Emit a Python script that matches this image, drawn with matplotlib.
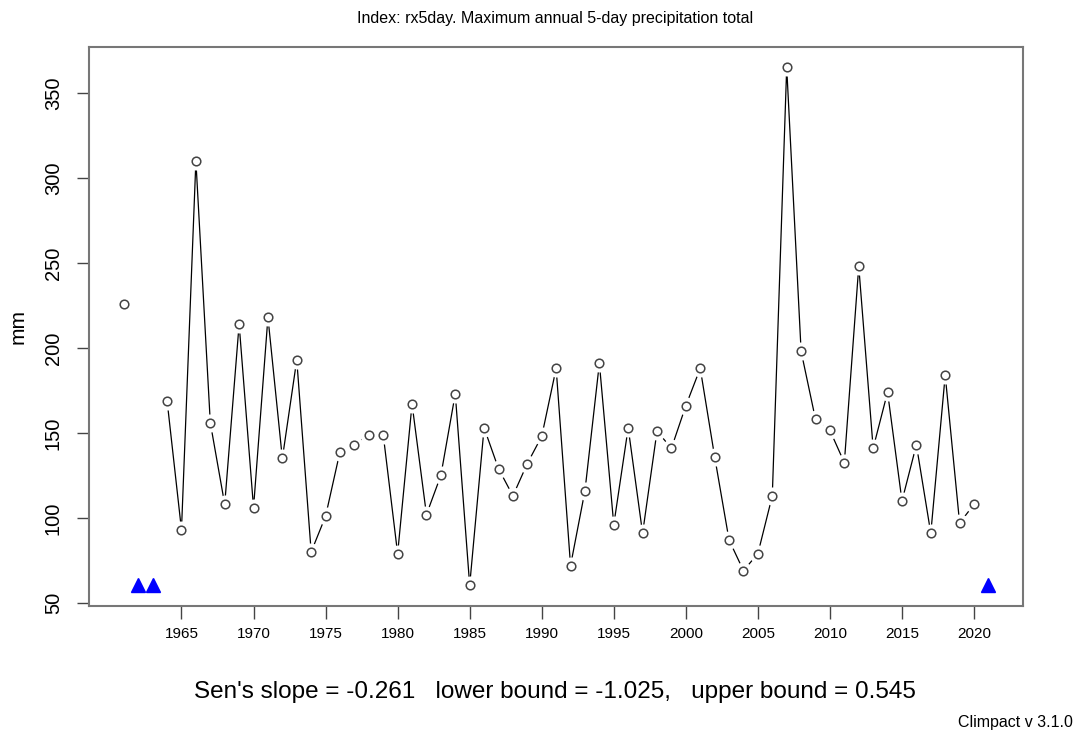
import numpy as np
import matplotlib
matplotlib.use("Agg")
import matplotlib.pyplot as plt

plt.rcParams["font.family"] = ["Liberation Sans", "DejaVu Sans"]

# rx5day values (nan = missing year)
years = np.arange(1961, 2022)
rx5day = np.array([
    226, np.nan, np.nan, 169, 93, 310, 156, 108, 214, 106,
    218, 135, 193, 80, 101, 139, 143, 149, 149, 79,
    167, 102, 125, 173, 60.4, 153, 129, 113, 132, 148,
    188, 72, 116, 191, 96, 153, 91, 151, 141, 166,
    188, 136, 87, 69, 79, 113, 365, 198, 158, 151.5,
    132.5, 248, 141, 174, 110, 143, 91, 184, 97, 108,
    np.nan,
])
x_ticks = np.arange(1965, 2021, 5)
y_ticks = np.arange(50, 351, 50)

title = "Index: rx5day. Maximum annual 5-day precipitation total"
slope_text = "Sen's slope = -0.261   lower bound = -1.025,   upper bound = 0.545"
footer = "Climpact v 3.1.0"


def r_range(lo, hi):
    """
    R style axis range, 4% padding
    """
    pad = 0.04 * (hi - lo)
    return lo - pad, hi + pad


def main():
    fig = plt.figure(figsize=(10.78, 7.33), dpi=100)
    ax = fig.add_axes([0.0828, 0.1733, 0.8662, 0.763])

    ymin = np.nanmin(rx5day)
    ymax = np.nanmax(rx5day)

    # type="b": line with gaps around the points
    ax.plot(years, rx5day, color="black", lw=0.9, zorder=1)
    ax.plot(years, rx5day, ls="none", marker="o", ms=13,
            mfc="white", mec="none", zorder=2)
    ax.plot(years, rx5day, ls="none", marker="o", ms=6.2,
            mfc="white", mec="#444444", mew=1.1, zorder=3)

    # missing years marked at the bottom
    missing = years[np.isnan(rx5day)]
    ax.plot(missing, np.full(len(missing), ymin), ls="none", marker="^",
            ms=10, color="blue", zorder=4)

    ax.set_xlim(*r_range(years[0], years[-1]))
    ax.set_ylim(*r_range(ymin, ymax))

    ax.set_xticks(x_ticks)
    ax.set_xticklabels([str(v) for v in x_ticks], fontsize=11)
    ax.set_yticks(y_ticks)
    ax.set_yticklabels([str(v) for v in y_ticks], fontsize=14.5,
                       rotation=90, va="center")
    ax.tick_params(axis="both", direction="out", length=9, width=1,
                   color="#444444")
    ax.tick_params(axis="x", pad=6)
    ax.tick_params(axis="y", pad=10)
    for s in ax.spines.values():
        s.set_color("#777777")
        s.set_linewidth(1.5)

    ax.set_ylabel("mm", fontsize=15, labelpad=12)
    fig.text(0.515, 0.975, title, ha="center", va="center", fontsize=11.5)
    fig.text(0.515, 0.056, slope_text, ha="center", va="center", fontsize=17.5)
    fig.text(0.995, 0.015, footer, ha="right", va="center", fontsize=11.5)

    fig.savefig("out.png", dpi=100)


if __name__ == "__main__":
    main()
